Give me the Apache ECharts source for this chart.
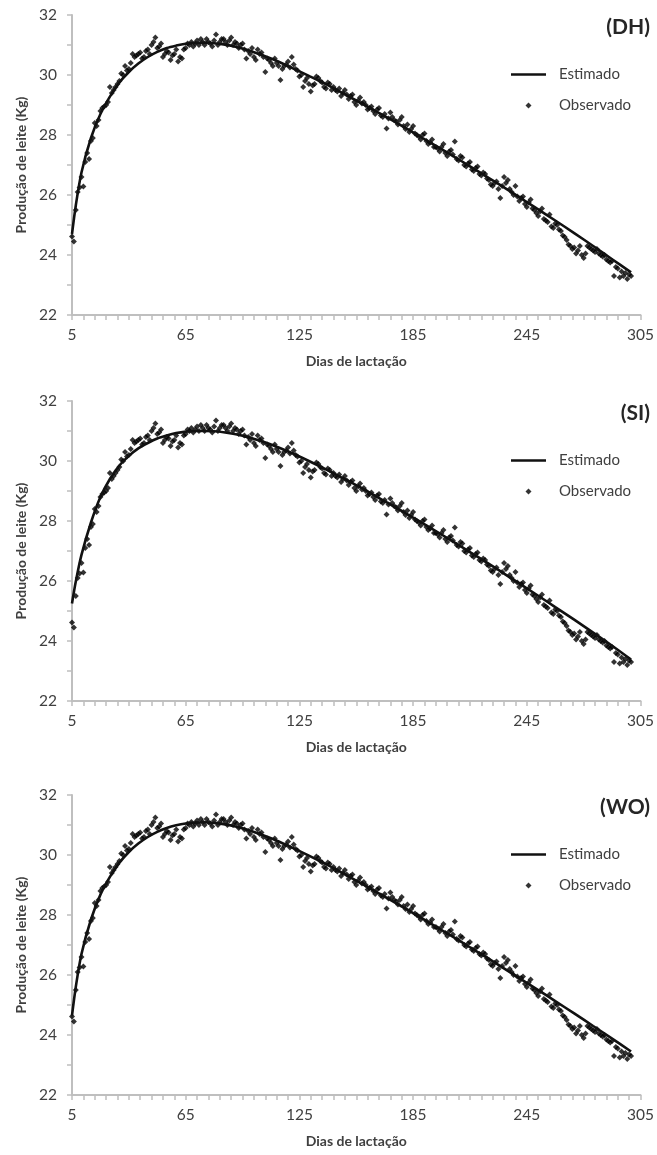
<!DOCTYPE html>
<html><head><meta charset="utf-8">
<script src="https://cdn.jsdelivr.net/npm/echarts@6/dist/echarts.min.js"></script>
<style>html,body{margin:0;padding:0;background:#fff}#c{width:657px;height:1155px}</style>
</head><body><div id="c"></div>
<script>
// ---- data ----
const panelLabels = ['(DH)', '(SI)', '(WO)'];
const xMin = 5, xMax = 305, xStep = 60;
const yMin = 22, yMax = 32, yStep = 2;

const estDays = [5,7,10,15,20,25,30,35,40,45,50,55,60,65,70,75,80,85,90,95,100,110,120,130,140,150,160,170,180,190,200,210,220,230,240,250,260,270,280,290,300];
const estDH = [24.7,25.65,26.75,27.9,28.7,29.28,29.75,30.1,30.38,30.6,30.77,30.9,30.98,31.04,31.07,31.08,31.06,31.02,30.96,30.88,30.78,30.55,30.27,29.97,29.66,29.32,28.98,28.63,28.27,27.9,27.53,27.15,26.76,26.37,25.97,25.56,25.15,24.73,24.3,23.86,23.42];
const estSI = [25.25,25.98,26.87,27.95,28.8,29.4,29.85,30.17,30.42,30.6,30.75,30.85,30.93,30.98,31.0,31.0,30.99,30.96,30.91,30.84,30.76,30.55,30.29,30.0,29.69,29.36,29.02,28.66,28.3,27.93,27.55,27.16,26.77,26.37,25.96,25.55,25.13,24.71,24.28,23.84,23.38];
const estWO = [24.65,25.6,26.7,27.85,28.68,29.27,29.74,30.1,30.38,30.6,30.77,30.9,30.99,31.05,31.08,31.09,31.07,31.03,30.97,30.89,30.79,30.56,30.28,29.98,29.66,29.32,28.97,28.61,28.25,27.88,27.5,27.12,26.73,26.34,25.94,25.54,25.13,24.72,24.3,23.88,23.45];

// observed daily production, first value is day 5, one value per day up to day 300
const obsFirstDay = 5;
const obsVals = [
24.62,24.45,25.5,26.1,26.25,26.6,26.28,27.1,27.4,27.2,
27.8,27.9,28.4,28.3,28.5,28.8,28.9,28.95,29.0,29.1,
29.6,29.4,29.5,29.6,29.7,29.8,30.05,30.0,30.3,30.15,
30.2,30.4,30.7,30.6,30.65,30.7,30.75,30.55,30.6,30.8,
30.85,30.7,31.0,31.1,31.25,30.9,30.95,31.05,30.6,30.7,
30.8,30.75,30.5,30.65,30.7,30.85,30.45,30.6,30.55,30.85,
30.9,31.05,31.0,31.1,30.95,31.05,31.15,31.0,31.2,31.1,
31.0,31.2,31.1,31.05,30.95,31.15,31.35,31.0,31.1,31.2,
31.2,31.1,31.0,31.15,31.25,31.0,31.1,31.05,30.9,31.0,
31.05,30.85,30.55,30.8,30.7,30.9,30.6,30.5,30.85,30.7,
30.75,30.6,30.1,30.55,30.5,30.4,30.3,30.55,30.4,30.3,
29.83,30.2,30.3,30.35,30.45,30.25,30.6,30.35,30.2,30.15,
29.95,30.0,29.6,29.8,29.9,29.7,29.45,29.65,29.7,29.95,
29.9,29.8,29.75,29.6,29.55,29.75,29.7,29.5,29.6,29.5,
29.45,29.55,29.3,29.4,29.5,29.35,29.2,29.3,29.35,29.1,
29.0,29.15,29.25,29.05,29.1,29.0,28.85,28.9,28.95,28.8,
28.7,28.85,28.9,28.65,28.6,28.7,28.22,28.55,28.75,28.6,
28.5,28.45,28.35,28.5,28.6,28.3,28.2,28.35,28.1,28.2,
28.3,28.05,28.0,27.95,27.85,28.0,28.05,27.8,27.7,27.75,
27.85,27.6,27.6,27.55,27.45,27.6,27.7,27.4,27.3,27.45,
27.5,27.35,27.78,27.2,27.15,27.3,27.25,27.0,26.95,27.05,
27.1,26.85,26.8,26.9,26.95,26.7,26.65,26.75,26.7,26.55,
26.5,26.35,26.3,26.4,26.45,26.2,25.9,26.3,26.6,26.4,
26.5,26.2,26.1,26.0,26.3,25.95,25.8,25.9,25.95,25.7,
25.6,25.75,25.85,25.55,25.5,25.4,25.3,25.45,25.55,25.2,
25.15,25.1,25.35,24.95,24.9,25.05,25.0,24.85,24.8,24.65,
24.6,24.5,24.35,24.3,24.2,24.25,24.05,24.15,24.3,24.0,
23.9,24.05,24.3,24.25,24.2,24.15,24.1,24.2,24.05,24.0,
23.95,24.0,23.85,23.8,23.75,23.8,23.3,23.6,23.55,23.25,
23.45,23.3,23.4,23.2,23.35,23.3
];

// ---- chart ----
const estSets = [estDH, estSI, estWO];
const tops = [15, 401, 795];
const plotH = 300;
const FONT = 'Lato, "Open Sans", sans-serif';
const textCol = '#404040';
const axisCol = '#bfbfbf';

const obsData = obsVals.map((v, k) => [obsFirstDay + k, v]);

const grid = [], xAxis = [], yAxis = [], series = [], legend = [], graphic = [];
tops.forEach((t, i) => {
  grid.push({ left: 72, width: 569, top: t, height: plotH, containLabel: false });
  xAxis.push({
    type: 'value', gridIndex: i, min: xMin, max: xMax, interval: xStep,
    name: 'Dias de lactação', nameLocation: 'middle', nameGap: 39,
    nameTextStyle: { fontFamily: FONT, fontWeight: 'bold', fontSize: 14, color: textCol },
    axisLine: { show: true, lineStyle: { color: axisCol, width: 2 } },
    axisTick: { show: true, length: 5, lineStyle: { color: axisCol, width: 1.5 } },
    minorTick: { show: true, splitNumber: 10, length: 5, lineStyle: { color: axisCol, width: 1.5 } },
    splitLine: { show: false },
    axisLabel: { fontFamily: FONT, fontSize: 15.5, color: textCol, margin: 12 }
  });
  yAxis.push({
    type: 'value', gridIndex: i, min: yMin, max: yMax, interval: yStep,
    name: 'Produção de leite (Kg)', nameLocation: 'middle', nameGap: 44, nameRotate: 90,
    nameTextStyle: { fontFamily: FONT, fontWeight: 'bold', fontSize: 14, color: textCol },
    axisLine: { show: true, lineStyle: { color: axisCol, width: 2 } },
    axisTick: { show: true, length: 5, lineStyle: { color: axisCol, width: 1.5 } },
    minorTick: { show: true, splitNumber: 2, length: 5, lineStyle: { color: axisCol, width: 1.5 } },
    splitLine: { show: false },
    axisLabel: { fontFamily: FONT, fontSize: 15.5, color: textCol, margin: 15 }
  });
  series.push({
    name: 'Observado', type: 'scatter', xAxisIndex: i, yAxisIndex: i,
    symbol: 'diamond', symbolSize: 6, itemStyle: { color: '#000' },
    data: obsData, z: 2
  });
  series.push({
    name: 'Estimado', type: 'line', xAxisIndex: i, yAxisIndex: i,
    symbol: 'none', smooth: 0.3,
    lineStyle: { color: '#111', width: 2.6 }, itemStyle: { color: '#111' },
    data: estDays.map((d, k) => [d, estSets[i][k]]), z: 3
  });
  legend.push({
    orient: 'vertical', left: 506, top: t + 47,
    itemWidth: 35, itemHeight: 6, itemGap: 16,
    data: [
      { name: 'Estimado', icon: 'path://M0,0 M0,1.7 L35,1.7 L35,4.3 L0,4.3 Z M35,6' },
      { name: 'Observado', icon: 'path://M0,0 M17.5,0 L20.5,3 L17.5,6 L14.5,3 Z M35,6' }
    ],
    textStyle: { fontFamily: FONT, fontSize: 15, color: textCol, padding: [0, 0, 0, 8] }
  });
  graphic.push({
    type: 'text', right: 7, top: t + 2,
    style: { text: panelLabels[i], font: 'bold 21px ' + FONT, fill: '#262626' }
  });
});

const chart = echarts.init(document.getElementById('c'), null, { renderer: 'canvas' });
chart.setOption({ animation: false, backgroundColor: '#fff', grid, xAxis, yAxis, series, legend, graphic });
</script></body></html>
